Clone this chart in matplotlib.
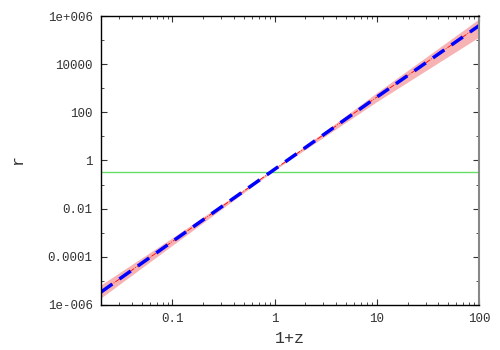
import numpy as np
import matplotlib
matplotlib.use('Agg')
import matplotlib.pyplot as plt
from matplotlib.ticker import LogLocator, FixedLocator, NullFormatter

# values
opz = [0.02, 0.1, 1.0, 10.0, 100.0]
r_mid = [3.4e-6, 4.3e-4, 0.43, 430.0, 4.0e5]
r_lo = [1.95e-6, 3.0e-4, 0.40, 280.0, 1.35e5]
r_hi = [6.8e-6, 6.2e-4, 0.46, 660.0, 7.6e5]
r_now = 0.34

yticks = [1e-6, 1e-4, 1e-2, 1, 100, 1e4, 1e6]
ylabels = ['1e-006', '0.0001', '0.01', '1', '100', '10000', '1e+006']
xticks = [0.1, 1, 10, 100]
xlabels = ['0.1', '1', '10', '100']

plt.rcParams['font.family'] = ['Liberation Mono', 'DejaVu Sans Mono']

fig = plt.figure(figsize=(5, 3.5), dpi=100)
ax = fig.add_axes([0.202, 0.129, 0.756, 0.825])

ax.fill_between(opz, r_lo, r_hi, color='#f7b3b3', lw=0)
ax.axhline(r_now, color='#66dd66', lw=1)
ax.plot(opz, r_mid, color='red', lw=0.6, ls='-.')
ax.plot(opz, r_mid, color='blue', lw=2.5, ls=(0, (4, 2.5)))

ax.set_xscale('log')
ax.set_yscale('log')
ax.set_xlim(0.02, 100)
ax.set_ylim(1e-6, 1e6)

ax.set_yticks(yticks)
ax.set_yticklabels(ylabels)
ax.yaxis.set_minor_locator(FixedLocator([1e-5, 1e-3, 1e-1, 10, 1e3, 1e5]))
ax.yaxis.set_minor_formatter(NullFormatter())
ax.set_xticks(xticks)
ax.set_xticklabels(xlabels)
ax.xaxis.set_minor_locator(LogLocator(base=10, subs=np.arange(2, 10)))
ax.xaxis.set_minor_formatter(NullFormatter())

ax.tick_params(which='both', direction='in', top=True, right=True, colors='#333333', labelsize=9, pad=6)
ax.tick_params(which='major', length=4)
ax.tick_params(which='minor', length=2.5)
for s in ax.spines.values():
    s.set_color('black')
    s.set_linewidth(1)
ax.spines['right'].set_color('#888888')
ax.spines['right'].set_linewidth(1.5)

ax.set_xlabel('1+z', fontsize=12, color='#333333', labelpad=4)
ax.set_ylabel('r', fontsize=12, color='#333333')
ax.yaxis.set_label_coords(-0.2, 0.5)

fig.savefig('out.png', dpi=100)
